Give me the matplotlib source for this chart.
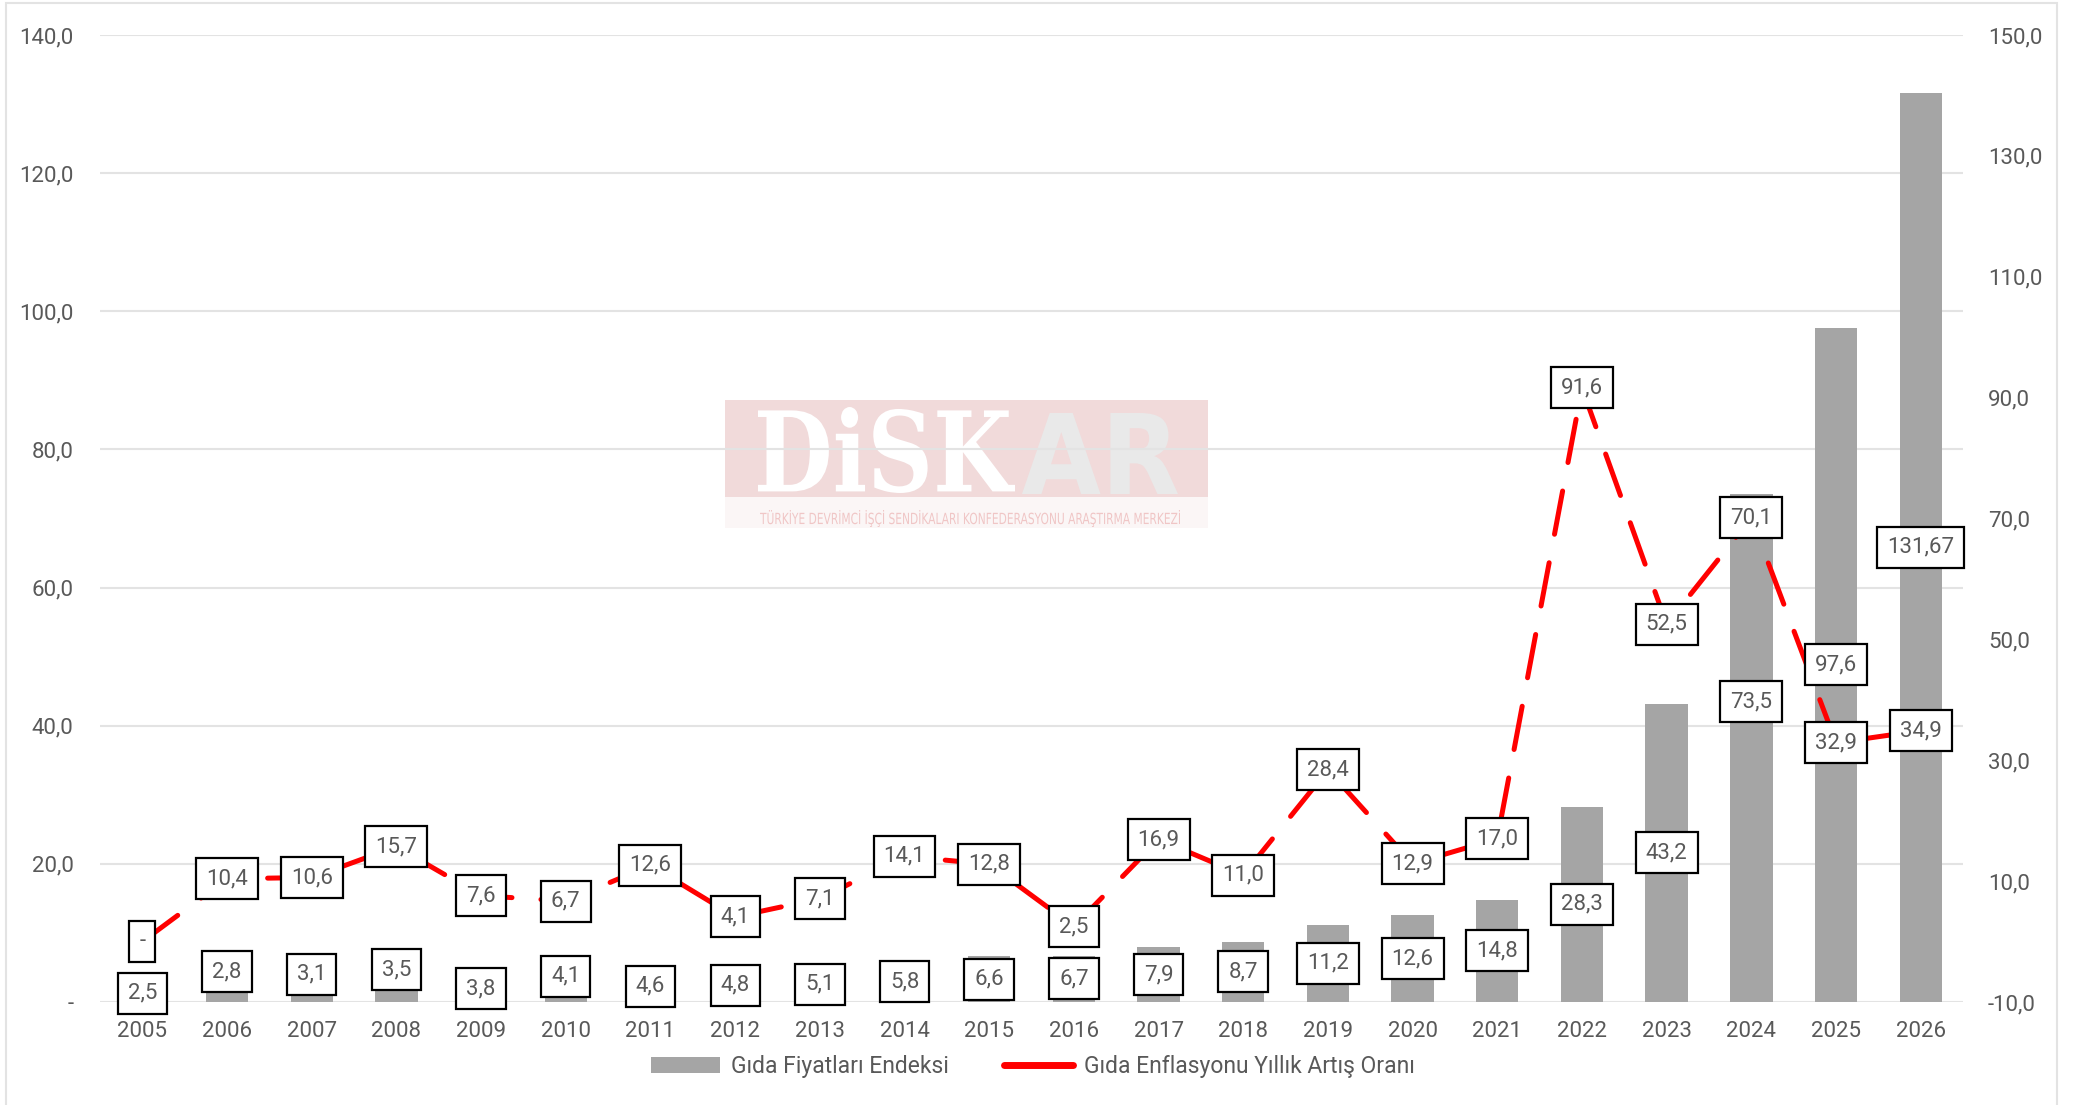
import numpy as np
import matplotlib
matplotlib.use("Agg")
import matplotlib.pyplot as plt
from matplotlib.patches import Patch, Rectangle, PathPatch
from matplotlib.lines import Line2D
from matplotlib.ticker import FuncFormatter, FixedLocator
from matplotlib.textpath import TextPath
from matplotlib.font_manager import FontProperties
from matplotlib.transforms import Affine2D

# data
years = [str(y) for y in range(2005, 2027)]
price_index = [2.5, 2.8, 3.1, 3.5, 3.8, 4.1, 4.6, 4.8, 5.1, 5.8, 6.6,
               6.7, 7.9, 8.7, 11.2, 12.6, 14.8, 28.3, 43.2, 73.5, 97.6, 131.67]
food_inflation = [0, 10.4, 10.6, 15.7, 7.6, 6.7, 12.6, 4.1, 7.1, 14.1, 12.8,
                  2.5, 16.9, 11.0, 28.4, 12.9, 17.0, 91.6, 52.5, 70.1, 32.9, 34.9]

# hand-moved bar labels in the original (left-axis units)
bar_label_nudge = {"2006": 3.0, "2007": 2.5, "2008": 2.9, "2010": 1.7, "2024": 6.7}

W, H = 2089, 1105
FONT = "Roboto"
GREY_TXT = "#595959"
BAR_COL = "#A5A5A5"
RED = "#FF0000"

plt.rcParams["font.family"] = [FONT, "DejaVu Sans"]


def num(v):
    if v == 0:
        return "-"
    s = f"{v:.1f}" if round(v, 1) == v else f"{v:.2f}"
    return s.replace(".", ",")


def fit_text(fig, s, x0, x1, ytop, ybot, prop, color):
    # squeeze a text outline into a pixel box (y measured from the top)
    tp = TextPath((0, 0), s, size=10, prop=prop)
    ext = tp.get_extents()
    sx = (x1 - x0) / W / ext.width
    sy = (ybot - ytop) / H / ext.height
    tr = (Affine2D().translate(-ext.x0, -ext.y0).scale(sx, sy)
          .translate(x0 / W, 1 - ybot / H) + fig.transFigure)
    fig.add_artist(PathPatch(tp, transform=tr, facecolor=color,
                             edgecolor="none", zorder=-1))


fig = plt.figure(figsize=(W / 100, H / 100), dpi=100)

# outer chart border
fig.add_artist(Rectangle((0.0029, -0.01), 0.982, 1.0073, transform=fig.transFigure,
                         fill=False, edgecolor="#E3E3E3", lw=1.5, zorder=-2))

# DiSKAR watermark behind the plot
fig.add_artist(Rectangle((725 / W, 1 - 497 / H), 483 / W, 97 / H, transform=fig.transFigure,
                         facecolor="#F1DADA", edgecolor="none", zorder=-1))
fig.add_artist(Rectangle((725 / W, 1 - 528 / H), 483 / W, 31 / H, transform=fig.transFigure,
                         facecolor="#FBF6F6", edgecolor="none", zorder=-1))
fit_text(fig, "DiSK", 758, 1015, 407, 493,
         FontProperties(family="DejaVu Serif", weight="bold"), "white")
fit_text(fig, "AR", 1022, 1178, 413, 494,
         FontProperties(family="DejaVu Sans", weight="bold"), "#E9E9E9")
fit_text(fig, "TÜRKİYE DEVRİMCİ İŞÇİ SENDİKALARI KONFEDERASYONU ARAŞTIRMA MERKEZİ",
         760, 1180, 510, 527, FontProperties(family="DejaVu Sans"), "#F0C6C6")

ax = fig.add_axes([0.0479, 0.0932, 0.8918, 0.8751])
ax.set_facecolor("none")
x = np.arange(len(years))
ax.bar(x, price_index, width=0.5, color=BAR_COL, zorder=2)
ax.set_xlim(-0.5, len(years) - 0.5)
ax.set_ylim(0, 140)
ax.yaxis.set_major_locator(FixedLocator(np.arange(0, 141, 20)))
ax.yaxis.set_major_formatter(FuncFormatter(lambda v, _: num(v)))
ax.set_xticks(x)
ax.set_xticklabels(years)
ax.set_axisbelow(True)
ax.grid(axis="y", color="#E3E3E3", lw=1.5)
ax.tick_params(axis="both", length=0, labelsize=16, labelcolor=GREY_TXT)
ax.tick_params(axis="y", pad=19)
ax.tick_params(axis="x", pad=14)
for s in ax.spines.values():
    s.set_visible(False)

ax2 = ax.twinx()
ax2.plot(x, food_inflation, color=RED, lw=3.6, linestyle=(0, (8.8, 5.8)),
         dash_capstyle="round", solid_capstyle="round", zorder=3)
ax2.set_ylim(-10, 150)
ax2.yaxis.set_major_locator(FixedLocator(np.arange(-10, 151, 20)))
ax2.yaxis.set_major_formatter(FuncFormatter(lambda v, _: num(v)))
ax2.tick_params(axis="y", length=0, labelsize=16, labelcolor=GREY_TXT, pad=18)
for s in ax2.spines.values():
    s.set_visible(False)

box = dict(boxstyle="square,pad=0.45", facecolor="white", edgecolor="black", lw=1.6)

# bar value labels (centred in the bar), drawn on top axes so they cover the line
for xi, yr, v in zip(x, years, price_index):
    ypos = v / 2 + bar_label_nudge.get(yr, 0)
    ax2.text(xi, ypos, num(v), transform=ax.transData, ha="center", va="center",
             fontsize=16, color=GREY_TXT, bbox=box, zorder=5)

# line value labels centred on the points
for xi, v in zip(x, food_inflation):
    ax2.text(xi, v, num(v), ha="center", va="center", fontsize=16,
             color=GREY_TXT, bbox=box, zorder=5)

handles = [Patch(facecolor=BAR_COL, edgecolor="none"),
           Line2D([0], [0], color=RED, lw=5, solid_capstyle="round")]
fig.legend(handles, ["Gıda Fiyatları Endeksi", "Gıda Enflasyonu Yıllık Artış Oranı"],
           loc="center", bbox_to_anchor=(0.4945, 0.035), ncol=2, frameon=False,
           fontsize=16.5, labelcolor=GREY_TXT, handlelength=3.0, handletextpad=0.5,
           columnspacing=2.4)

fig.savefig("out.png", dpi=100)
